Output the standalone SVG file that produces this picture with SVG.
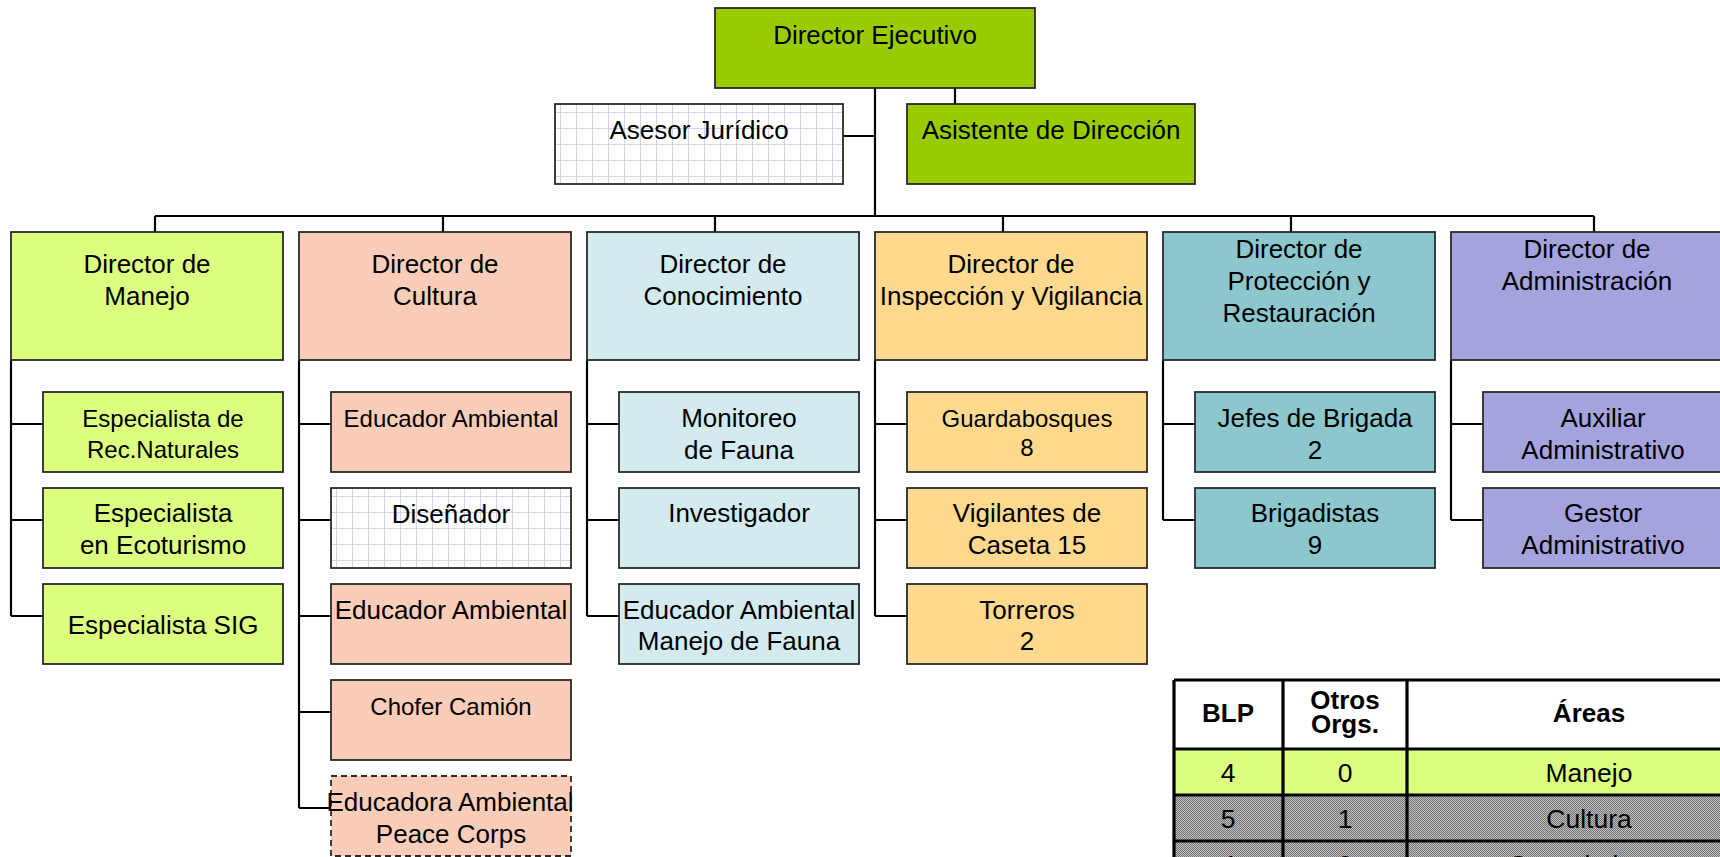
<svg xmlns="http://www.w3.org/2000/svg" width="1720" height="857" viewBox="0 0 1720 857">
<defs>
<pattern id="grid" patternUnits="userSpaceOnUse" width="16" height="16">
<rect width="16" height="16" fill="#ffffff"/>
<path d="M0 0H16M0 0V16" stroke="#c9c9ea" stroke-width="1.6" fill="none"/>
</pattern>
<pattern id="dith" patternUnits="userSpaceOnUse" width="2" height="2">
<rect width="2" height="2" fill="#c2c2c2"/>
<rect width="1" height="1" fill="#727272"/>
<rect x="1" y="1" width="1" height="1" fill="#727272"/>
</pattern>
<style>
.b{stroke:#2a2a2a;stroke-width:1.8}
.g{fill:#99cc00}.m{fill:#ddff80}.c{fill:#facdb9}.k{fill:#d3ebee}.i{fill:#ffda8e}.p{fill:#8bc7cd}.a{fill:#a5a3de}.gr{fill:url(#grid)}
text{font-family:"Liberation Sans",Arial,sans-serif;fill:#000;text-anchor:middle}
.t{font-size:26px}.s{font-size:24px}
.h{font-size:26px;font-weight:bold}
.r{font-size:26.5px}
.ln{stroke:#000;stroke-width:2.2;fill:none}
.tb{stroke:#000;stroke-width:3.2;fill:none}
</style>
</defs>
<rect width="1720" height="857" fill="#fff"/>

<g id="connectors" class="ln">
<path d="M875 88V216M843 136H875M955 88V104"/>
<path d="M155 216H1594M155 216V232M443 216V232M715 216V232M1003 216V232M1291 216V232M1594 216V232"/>
<path d="M11 360V616M11 424H43M11 520H43M11 616H43"/>
<path d="M299 360V808M299 424H331M299 520H331M299 616H331M299 712H331M299 808H331"/>
<path d="M587 360V616M587 424H619M587 520H619M587 616H619"/>
<path d="M875 360V616M875 424H907M875 520H907M875 616H907"/>
<path d="M1163 360V520M1163 424H1195M1163 520H1195"/>
<path d="M1451 360V520M1451 424H1483M1451 520H1483"/>
</g>

<g id="n-director-ejecutivo"><rect class="b g" x="715" y="8" width="320" height="80"/><text class="t" x="875" y="44">Director Ejecutivo</text></g>
<g id="n-asesor"><rect class="b gr" x="555" y="104" width="288" height="80"/><text class="t" x="699" y="139">Asesor Jurídico</text></g>
<g id="n-asistente"><rect class="b g" x="907" y="104" width="288" height="80"/><text class="t" x="1051" y="139">Asistente de Dirección</text></g>

<g id="n-manejo"><rect class="b m" x="11" y="232" width="272" height="128"/><text class="t" x="147" y="273">Director de</text><text class="t" x="147" y="305">Manejo</text></g>
<g id="n-cultura"><rect class="b c" x="299" y="232" width="272" height="128"/><text class="t" x="435" y="273">Director de</text><text class="t" x="435" y="305">Cultura</text></g>
<g id="n-conocimiento"><rect class="b k" x="587" y="232" width="272" height="128"/><text class="t" x="723" y="273">Director de</text><text class="t" x="723" y="305">Conocimiento</text></g>
<g id="n-inspeccion"><rect class="b i" x="875" y="232" width="272" height="128"/><text class="t" x="1011" y="273">Director de</text><text class="t" x="1011" y="305">Inspección y Vigilancia</text></g>
<g id="n-proteccion"><rect class="b p" x="1163" y="232" width="272" height="128"/><text class="t" x="1299" y="258">Director de</text><text class="t" x="1299" y="290">Protección y</text><text class="t" x="1299" y="322">Restauración</text></g>
<g id="n-administracion"><rect class="b a" x="1451" y="232" width="272" height="128"/><text class="t" x="1587" y="258">Director de</text><text class="t" x="1587" y="290">Administración</text></g>

<g id="n-esp-rec"><rect class="b m" x="43" y="392" width="240" height="80"/><text class="s" x="163" y="427">Especialista de</text><text class="s" x="163" y="458">Rec.Naturales</text></g>
<g id="n-esp-eco"><rect class="b m" x="43" y="488" width="240" height="80"/><text class="t" x="163" y="522">Especialista</text><text class="t" x="163" y="554">en Ecoturismo</text></g>
<g id="n-esp-sig"><rect class="b m" x="43" y="584" width="240" height="80"/><text class="t" x="163" y="634">Especialista SIG</text></g>

<g id="n-edu1"><rect class="b c" x="331" y="392" width="240" height="80"/><text class="s" x="451" y="427">Educador Ambiental</text></g>
<g id="n-disenador"><rect class="b gr" x="331" y="488" width="240" height="80"/><text class="t" x="451" y="523">Diseñador</text></g>
<g id="n-edu2"><rect class="b c" x="331" y="584" width="240" height="80"/><text class="t" x="451" y="619">Educador Ambiental</text></g>
<g id="n-chofer"><rect class="b c" x="331" y="680" width="240" height="80"/><text class="s" x="451" y="715">Chofer Camión</text></g>
<g id="n-peace"><rect class="c" x="331" y="776" width="240" height="80" stroke="#2a2a2a" stroke-width="1.8" stroke-dasharray="6 4"/><text class="t" x="450" y="811">Educadora Ambiental</text><text class="t" x="451" y="843">Peace Corps</text></g>

<g id="n-monitoreo"><rect class="b k" x="619" y="392" width="240" height="80"/><text class="t" x="739" y="427">Monitoreo</text><text class="t" x="739" y="459">de Fauna</text></g>
<g id="n-investigador"><rect class="b k" x="619" y="488" width="240" height="80"/><text class="t" x="739" y="522">Investigador</text></g>
<g id="n-edu-fauna"><rect class="b k" x="619" y="584" width="240" height="80"/><text class="t" x="739" y="619">Educador Ambiental</text><text class="t" x="739" y="650">Manejo de Fauna</text></g>

<g id="n-guarda"><rect class="b i" x="907" y="392" width="240" height="80"/><text class="s" x="1027" y="427">Guardabosques</text><text class="s" x="1027" y="456">8</text></g>
<g id="n-vigilantes"><rect class="b i" x="907" y="488" width="240" height="80"/><text class="t" x="1027" y="522">Vigilantes de</text><text class="t" x="1027" y="554">Caseta 15</text></g>
<g id="n-torreros"><rect class="b i" x="907" y="584" width="240" height="80"/><text class="t" x="1027" y="619">Torreros</text><text class="t" x="1027" y="650">2</text></g>

<g id="n-jefes"><rect class="b p" x="1195" y="392" width="240" height="80"/><text class="t" x="1315" y="427">Jefes de Brigada</text><text class="t" x="1315" y="459">2</text></g>
<g id="n-brigadistas"><rect class="b p" x="1195" y="488" width="240" height="80"/><text class="t" x="1315" y="522">Brigadistas</text><text class="t" x="1315" y="554">9</text></g>

<g id="n-auxiliar"><rect class="b a" x="1483" y="392" width="240" height="80"/><text class="t" x="1603" y="427">Auxiliar</text><text class="t" x="1603" y="459">Administrativo</text></g>
<g id="n-gestor"><rect class="b a" x="1483" y="488" width="240" height="80"/><text class="t" x="1603" y="522">Gestor</text><text class="t" x="1603" y="554">Administrativo</text></g>

<g id="table">
<rect x="1174" y="680" width="600" height="69" fill="#fff"/>
<rect x="1174" y="749" width="600" height="46" fill="#ddff80"/>
<rect x="1174" y="795" width="600" height="46" fill="url(#dith)"/>
<rect x="1174" y="841" width="600" height="46" fill="url(#dith)"/>
<path class="tb" d="M1174 680H1774M1174 749H1774M1174 680V900M1283 680V900M1407 680V900"/>
<path class="tb" stroke-width="4" d="M1174 795H1774M1174 841H1774"/>
<text class="h" x="1228" y="722">BLP</text>
<text class="h" x="1345" y="709">Otros</text>
<text class="h" x="1345" y="733">Orgs.</text>
<text class="h" x="1589" y="722">Áreas</text>
<text class="r" x="1228" y="782">4</text><text class="r" x="1345" y="782">0</text><text class="r" x="1589" y="782">Manejo</text>
<text class="r" x="1228" y="828">5</text><text class="r" x="1345" y="828">1</text><text class="r" x="1589" y="828">Cultura</text>
<text class="r" x="1228" y="874">4</text><text class="r" x="1345" y="874">0</text><text class="r" x="1589" y="874">Conocimiento</text>
</g>
</svg>
